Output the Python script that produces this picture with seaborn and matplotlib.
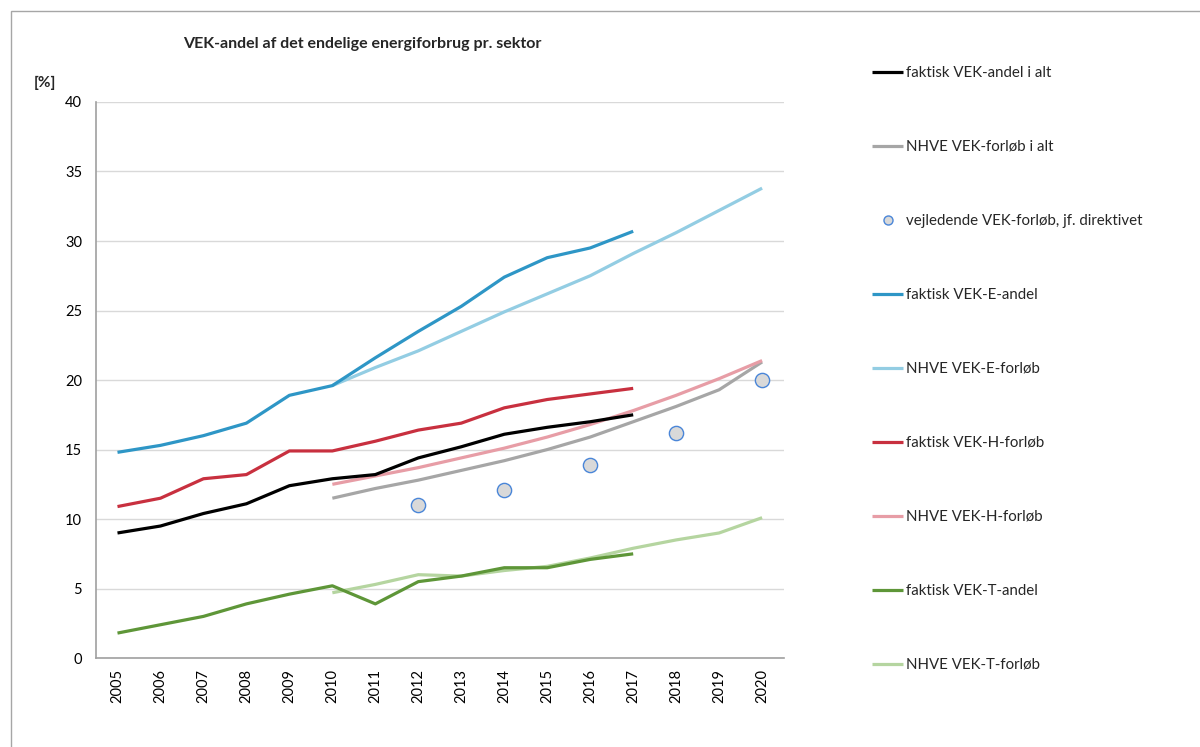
import numpy as np
import pandas as pd
import matplotlib
matplotlib.use("Agg")
import matplotlib.pyplot as plt
import seaborn as sns
from matplotlib.patches import Rectangle
from matplotlib.lines import Line2D

sns.set_theme(style="white")
plt.rcParams['font.family'] = ['Lato', 'DejaVu Sans']

# Data
years_hist = list(range(2005, 2018))
years_proj = list(range(2010, 2021))
years_dir = [2012, 2014, 2016, 2018, 2020]

faktisk_alt = [9.0, 9.5, 10.4, 11.1, 12.4, 12.9, 13.2, 14.4, 15.2, 16.1, 16.6, 17.0, 17.5]
nhve_alt = [11.5, 12.2, 12.8, 13.5, 14.2, 15.0, 15.9, 17.0, 18.1, 19.3, 21.3]
vejledende = [11.0, 12.1, 13.9, 16.2, 20.0]
faktisk_e = [14.8, 15.3, 16.0, 16.9, 18.9, 19.6, 21.6, 23.5, 25.3, 27.4, 28.8, 29.5, 30.7]
nhve_e = [19.6, 20.9, 22.1, 23.5, 24.9, 26.2, 27.5, 29.1, 30.6, 32.2, 33.8]
faktisk_h = [10.9, 11.5, 12.9, 13.2, 14.9, 14.9, 15.6, 16.4, 16.9, 18.0, 18.6, 19.0, 19.4]
nhve_h = [12.5, 13.1, 13.7, 14.4, 15.1, 15.9, 16.8, 17.8, 18.9, 20.1, 21.4]
faktisk_t = [1.8, 2.4, 3.0, 3.9, 4.6, 5.2, 3.9, 5.5, 5.9, 6.5, 6.5, 7.1, 7.5]
nhve_t = [4.7, 5.3, 6.0, 5.9, 6.3, 6.6, 7.2, 7.9, 8.5, 9.0, 10.1]

fig = plt.figure(figsize=(12, 7.47), dpi=100)
ax = fig.add_axes([0.08, 0.119, 0.573, 0.7445])

lw = 2.3
series = [
    (years_hist, faktisk_alt, '#000000', 'faktisk VEK-andel i alt'),
    (years_proj, nhve_alt, '#a6a6a6', 'NHVE VEK-forløb i alt'),
    (None, None, None, 'vejledende VEK-forløb, jf. direktivet'),
    (years_hist, faktisk_e, '#2e96c6', 'faktisk VEK-E-andel'),
    (years_proj, nhve_e, '#93cde3', 'NHVE VEK-E-forløb'),
    (years_hist, faktisk_h, '#c8303f', 'faktisk VEK-H-forløb'),
    (years_proj, nhve_h, '#e79da6', 'NHVE VEK-H-forløb'),
    (years_hist, faktisk_t, '#5e9638', 'faktisk VEK-T-andel'),
    (years_proj, nhve_t, '#b5d5a0', 'NHVE VEK-T-forløb'),
]

# draw projections first, then actuals on top
order = [1, 4, 6, 8, 0, 3, 5, 7]
for i in order:
    x, y, c, lab = series[i]
    sns.lineplot(x=x, y=y, color=c, lw=lw, ax=ax, label=lab, solid_capstyle='butt')

sns.scatterplot(x=years_dir, y=vejledende, ax=ax, s=105, color='#d9d9d9',
                edgecolor='#4a86d8', linewidth=1.0, zorder=5, legend=False)

ax.set_xlim(2004.5, 2020.5)
ax.set_ylim(0, 40)
ax.set_yticks(range(0, 41, 5))
ax.set_xticks(range(2005, 2021))
ax.set_xticklabels([str(y) for y in range(2005, 2021)], rotation=90)
ax.tick_params(axis='y', length=0, pad=10, labelsize=10.5, colors='#000000')
ax.tick_params(axis='x', length=0, pad=8, labelsize=10.5, colors='#000000')
ax.grid(axis='y', color='#d9d9d9', lw=1.0)
ax.set_axisbelow(True)
for s in ['top', 'right']:
    ax.spines[s].set_visible(False)
for s in ['left', 'bottom']:
    ax.spines[s].set_color('#a0a0a0')
    ax.spines[s].set_linewidth(1.2)
ax.set_xlabel('')
ax.set_ylabel('')

# legend in original order
handles, labels = ax.get_legend_handles_labels()
hmap = dict(zip(labels, handles))
hmap[series[2][3]] = Line2D([], [], ls='none', marker='o', markersize=6.5,
                            markerfacecolor='#d9d9d9', markeredgecolor='#4a86d8',
                            markeredgewidth=1.0)
ordered = [s[3] for s in series]
ax.get_legend().remove()
leg = fig.legend([hmap[l] for l in ordered], ordered, loc='upper left',
                 bbox_to_anchor=(0.7215, 0.92), frameon=False, fontsize=10.8,
                 labelspacing=4.0, handlelength=2.1, handletextpad=0.15,
                 borderaxespad=0)

fig.text(0.302, 0.941, 'VEK-andel af det endelige energiforbrug pr. sektor',
         ha='center', va='center', fontsize=11.5, fontweight='bold')
fig.text(0.028, 0.889, '[%]', ha='left', va='center', fontsize=11, fontweight='bold')

# outer chart border
fig.patches.append(Rectangle((11 / 1200, -0.1), 1.2, 1.1 - 11 / 747,
                             transform=fig.transFigure, fill=False,
                             edgecolor='#a6a6a6', lw=1.0))

fig.savefig('out.png', dpi=100, facecolor='white')
